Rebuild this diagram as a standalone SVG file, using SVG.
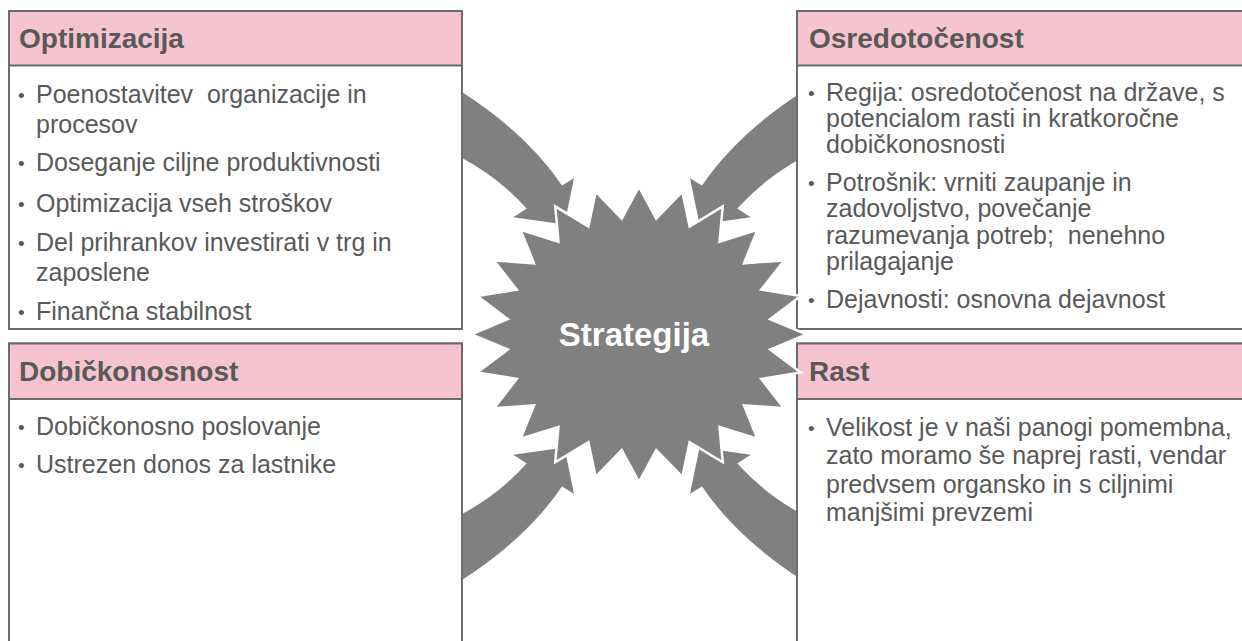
<svg xmlns="http://www.w3.org/2000/svg" xmlns:xlink="http://www.w3.org/1999/xlink" width="1242" height="641" viewBox="0 0 1242 641">
  <style>
    .box { fill: #ffffff; stroke: #6b6b6b; stroke-width: 2; }
    .hdr { fill: #f6c4d0; stroke: #6b6b6b; stroke-width: 2; }
    .htxt { font-family: "Liberation Sans", Arial, sans-serif; font-size: 28px; font-weight: bold; fill: #595959; }
    .btxt { font-family: "Liberation Sans", Arial, sans-serif; font-size: 25px; fill: #595959; }
    .bul { font-size: 19px; }
    .arrow { fill: #808080; stroke: none; }
    .star { fill: #808080; stroke: #ffffff; stroke-width: 2.5; stroke-linejoin: miter; }
    .stxt { font-family: "Liberation Sans", Arial, sans-serif; font-size: 33px; font-weight: bold; fill: #ffffff; }
  </style>
  <defs>
    <path id="curvedArrow" d="M 450 84 L 462 92 Q 527 134 562 185.5 L 574 178.3 L 564.4 224.4 L 513.3 217.3 L 526.7 208.5 Q 498 177 462 158 L 450 151.7 Z"/>
  </defs>
  <rect x="0" y="0" width="1242" height="641" fill="#ffffff"/>

  <g id="connectors">
    <use xlink:href="#curvedArrow" href="#curvedArrow" class="arrow"/>
    <use xlink:href="#curvedArrow" href="#curvedArrow" class="arrow" transform="matrix(-1 0 0 1 1264 0)"/>
    <use xlink:href="#curvedArrow" href="#curvedArrow" class="arrow" transform="matrix(1 0 0 -1 0 672)"/>
    <use xlink:href="#curvedArrow" href="#curvedArrow" class="arrow" transform="matrix(-1 0 0 -1 1264 672)"/>
  </g>

  <g id="optimizacija">
    <rect class="box" x="9" y="11" width="453" height="318"/>
    <rect class="hdr" x="9" y="11" width="453" height="54.5"/>
    <text class="htxt" x="19" y="48">Optimizacija</text>
    <text class="btxt" xml:space="preserve"><tspan class="bul" x="18" y="102">•</tspan><tspan x="36" y="103">Poenostavitev  organizacije in</tspan></text>
    <text class="btxt" x="36" y="133">procesov</text>
    <text class="btxt"><tspan class="bul" x="18" y="170">•</tspan><tspan x="36" y="171">Doseganje ciljne produktivnosti</tspan></text>
    <text class="btxt"><tspan class="bul" x="18" y="211">•</tspan><tspan x="36" y="212">Optimizacija vseh stroškov</tspan></text>
    <text class="btxt"><tspan class="bul" x="18" y="250">•</tspan><tspan x="36" y="251">Del prihrankov investirati v trg in</tspan></text>
    <text class="btxt" x="36" y="281">zaposlene</text>
    <text class="btxt"><tspan class="bul" x="18" y="319">•</tspan><tspan x="36" y="320">Finančna stabilnost</tspan></text>
  </g>

  <g id="dobickonosnost">
    <rect class="box" x="9" y="343.5" width="453" height="320"/>
    <rect class="hdr" x="9" y="343.5" width="453" height="55.5"/>
    <text class="htxt" x="19" y="381">Dobičkonosnost</text>
    <text class="btxt"><tspan class="bul" x="18" y="434">•</tspan><tspan x="36" y="435">Dobičkonosno poslovanje</tspan></text>
    <text class="btxt"><tspan class="bul" x="18" y="472">•</tspan><tspan x="36" y="473">Ustrezen donos za lastnike</tspan></text>
  </g>

  <g id="osredotocenost">
    <rect class="box" x="797" y="11" width="460" height="318"/>
    <rect class="hdr" x="797" y="11" width="460" height="54.5"/>
    <text class="htxt" x="809" y="48">Osredotočenost</text>
    <text class="btxt"><tspan class="bul" x="808" y="100">•</tspan><tspan x="826" y="101">Regija: osredotočenost na države, s</tspan></text>
    <text class="btxt" x="826" y="127">potencialom rasti in kratkoročne</text>
    <text class="btxt" x="826" y="153">dobičkonosnosti</text>
    <text class="btxt"><tspan class="bul" x="808" y="190">•</tspan><tspan x="826" y="191">Potrošnik: vrniti zaupanje in</tspan></text>
    <text class="btxt" x="826" y="217">zadovoljstvo, povečanje</text>
    <text class="btxt" x="826" y="244" xml:space="preserve">razumevanja potreb;  nenehno</text>
    <text class="btxt" x="826" y="270">prilagajanje</text>
    <text class="btxt"><tspan class="bul" x="808" y="307">•</tspan><tspan x="826" y="308">Dejavnosti: osnovna dejavnost</tspan></text>
  </g>

  <g id="rast">
    <rect class="box" x="797" y="343.5" width="460" height="320"/>
    <rect class="hdr" x="797" y="343.5" width="460" height="55.5"/>
    <text class="htxt" x="809" y="381">Rast</text>
    <text class="btxt"><tspan class="bul" x="808" y="435">•</tspan><tspan x="826" y="436">Velikost je v naši panogi pomembna,</tspan></text>
    <text class="btxt" x="826" y="464">zato moramo še naprej rasti, vendar</text>
    <text class="btxt" x="826" y="493">predvsem organsko in s ciljnimi</text>
    <text class="btxt" x="826" y="521">manjšimi prevzemi</text>
  </g>

  <g id="strategija">
    <polygon class="star" points="639,186.6 656.27,218.6 682.35,191.63 689.63,226.48 722.75,206.39 719.54,241.72 757.44,229.86 743.96,263.26 784.06,260.45 761.23,289.64 800.79,296.07 770.17,319.07 806.5,334.3 770.17,349.53 800.79,372.53 761.23,378.96 784.06,408.15 743.96,405.34 757.44,438.74 719.54,426.88 722.75,462.21 689.63,442.12 682.35,476.97 656.27,450 639,482 621.73,450 595.65,476.97 588.37,442.12 555.25,462.21 558.46,426.88 520.56,438.74 534.04,405.34 493.94,408.15 516.77,378.96 477.21,372.53 507.83,349.53 471.5,334.3 507.83,319.07 477.21,296.07 516.77,289.64 493.94,260.45 534.04,263.26 520.56,229.86 558.46,241.72 555.25,206.39 588.37,226.48 595.65,191.63 621.73,218.6"/>
    <text class="stxt" x="634" y="346" text-anchor="middle">Strategija</text>
  </g>
</svg>
